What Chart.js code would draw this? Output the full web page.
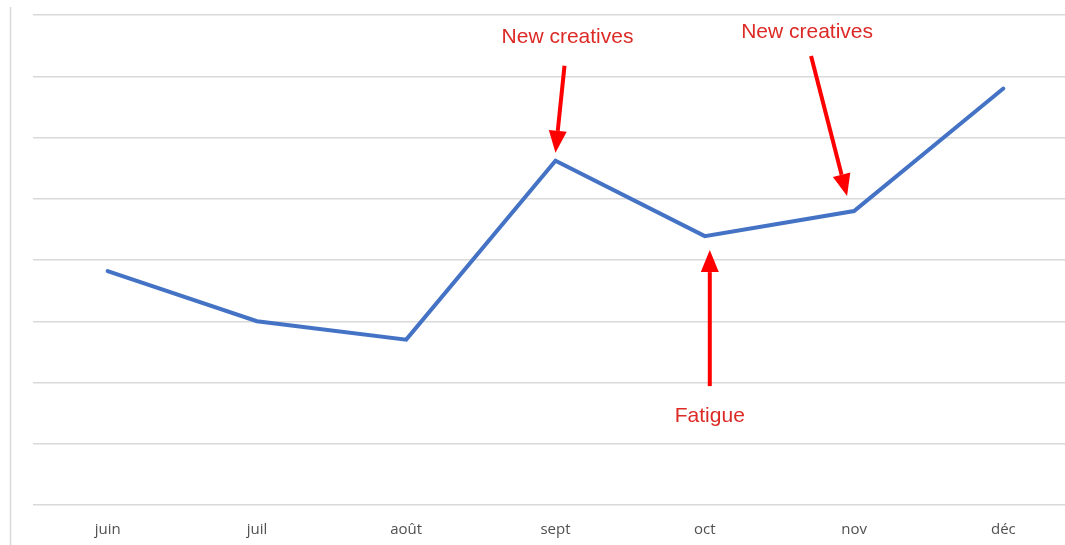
<!DOCTYPE html>
<html>
<head>
<meta charset="utf-8">
<script src="https://cdn.jsdelivr.net/npm/chart.js@4/dist/chart.umd.min.js"></script>
<style>
  html,body{margin:0;padding:0;background:#fff;overflow:hidden;}
  #wrap{position:relative;width:1078px;height:560px;}
</style>
</head>
<body>
<div id="wrap"><canvas id="chart"></canvas></div>
<script>
// data
const months = ['juin','juil','août','sept','oct','nov','déc'];
const values = [3.82, 3.0, 2.7, 5.62, 4.39, 4.8, 6.8];
const notes = ['New creatives', 'Fatigue', 'New creatives'];
const noteIdx = [3, 4, 5];

// where each note sits relative to its point: [tipDx, tipDy, tailDx, tailDy, textDx, textDy]
const noteLayout = [
  [0, -8, 9, -95, 12, -124],
  [5, 14, 5, 150, 5, 180],
  [-7, -15, -43, -155, -47, -179]
];

const arrows = {
  id:'arrows',
  beforeDraw(chart){
    const c = chart.ctx;
    c.save();
    c.strokeStyle = '#d9d9d9';
    c.lineWidth = 1.5;
    c.beginPath();
    c.moveTo(10.5, 7);
    c.lineTo(10.5, 560);
    c.stroke();
    c.restore();
  },
  afterDatasetsDraw(chart){
    const c = chart.ctx;
    const meta = chart.getDatasetMeta(0);
    c.save();
    notes.forEach((txt, i) => {
      const p = meta.data[noteIdx[i]];
      const L = noteLayout[i];
      const tx = p.x + L[0], ty = p.y + L[1];
      const sx = p.x + L[2], sy = p.y + L[3];
      const ang = Math.atan2(ty - sy, tx - sx);
      const headLen = 22, headW = 9;
      const bx = tx - headLen * Math.cos(ang), by = ty - headLen * Math.sin(ang);
      c.strokeStyle = '#ff0000';
      c.fillStyle = '#ff0000';
      c.lineWidth = 4;
      c.beginPath();
      c.moveTo(sx, sy);
      c.lineTo(bx, by);
      c.stroke();
      c.beginPath();
      c.moveTo(tx, ty);
      c.lineTo(bx + headW * Math.sin(ang), by - headW * Math.cos(ang));
      c.lineTo(bx - headW * Math.sin(ang), by + headW * Math.cos(ang));
      c.closePath();
      c.fill();
      c.fillStyle = '#dc2a26';
      c.font = '21px "Liberation Sans", Arial, sans-serif';
      c.textAlign = 'center';
      c.textBaseline = 'middle';
      c.fillText(txt, p.x + L[4], p.y + L[5]);
    });
    c.restore();
  }
};

new Chart(document.getElementById('chart'), {
  type:'line',
  data:{
    labels:months,
    datasets:[{
      data:values,
      borderColor:'#4472c4',
      borderWidth:4,
      pointRadius:0,
      tension:0,
      borderCapStyle:'round',
      borderJoinStyle:'miter'
    }]
  },
  options:{
    responsive:true,
    maintainAspectRatio:false,
    animation:false,
    layout:{padding:{left:33,right:0,top:15,bottom:13}},
    plugins:{legend:{display:false},tooltip:{enabled:false}},
    scales:{
      x:{
        offset:true,
        grid:{display:false},
        border:{display:false},
        ticks:{color:'#505050',padding:8,font:{family:'"Open Sans", sans-serif',size:15}}
      },
      y:{
        min:0,max:8,
        ticks:{display:false,stepSize:1},
        grid:{color:'#d9d9d9',lineWidth:1.5,drawTicks:false},
        border:{display:false}
      }
    }
  },
  plugins:[arrows]
});
</script>
</body>
</html>
